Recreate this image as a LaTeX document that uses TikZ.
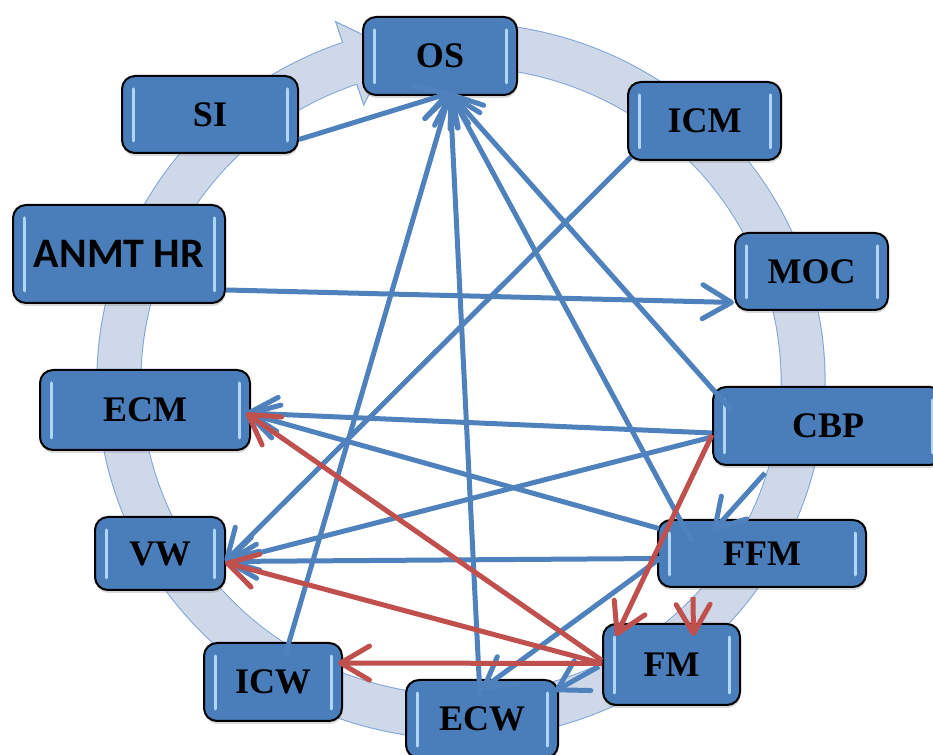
\documentclass[tikz,border=0pt]{standalone}
\usepackage{fontspec}
\setmainfont{Liberation Serif}
\newfontfamily\labelsans{Carlito}
\usepackage{tikz}
\usetikzlibrary{arrows.meta}
\usetikzlibrary{calc}
\usetikzlibrary{math}
\usetikzlibrary{shadows}

\definecolor{boxblue}{RGB}{74,126,187}
\definecolor{lineblue}{RGB}{79,129,189}
\definecolor{linered}{RGB}{192,80,77}
\definecolor{ringfill}{RGB}{207,216,232}
\definecolor{ringedge}{RGB}{128,164,212}
\definecolor{gloss}{RGB}{175,214,246}

\tikzset{
  unitbox/.style={draw=black, line width=2pt, fill=boxblue, rounded corners=13pt,
    inner sep=0pt, text=black, font=\fontsize{36}{40}\selectfont\bfseries,
    drop shadow={shadow xshift=0.5pt, shadow yshift=-3pt, opacity=0.3},
    path picture={
      \draw[gloss, line width=3pt, line cap=round]
        ([shift={(11,-13)}]path picture bounding box.north west) --
        ([shift={(11,12)}]path picture bounding box.south west);
      \draw[gloss, line width=3pt, line cap=round]
        ([shift={(-11,-13)}]path picture bounding box.north east) --
        ([shift={(-11,12)}]path picture bounding box.south east);
    }},
  bluelink/.style={lineblue, line width=5pt,
    -{Straight Barb[length=29pt, width=34pt, round]}},
  redlink/.style={bluelink, linered},
}

\begin{document}
\begin{tikzpicture}[x=1pt, y=1pt]

  \tikzmath{
    \rx      = 342; % horizontal radius of the ring
    \ry      = 336; % vertical radius of the ring
    \headang = 109; % angle where the ring arrow head sits
    \headlen = 45;  % length of the ring arrow head
    \headwid = 44;  % half width of the ring arrow head
    \ta      = atan2(\ry*cos(\headang)*(-1), \rx*sin(\headang)); % heading of the head
  }

  \useasboundingbox (0, 0) rectangle (933, 754);

  % centre of the ring and the head of the ring
  \coordinate (M) at (461, 373);
  \coordinate (hb) at ($ (M) + (\headang:{\rx} and {\ry}) $);
  \coordinate (tip) at ($ (hb) + (\ta:\headlen) $);
  \coordinate (h1) at ($ (hb) + (\ta+90:\headwid) $);
  \coordinate (h2) at ($ (hb) + (\ta-90:\headwid) $);

  % ring made out of one wide arc
  \draw[ringedge, line width=45pt] (hb)
    arc[start angle=\headang, end angle=455, x radius=\rx, y radius=\ry];
  \draw[ringedge, fill=ringfill, line width=1pt] (h1) -- (tip) -- (h2) -- cycle;
  \draw[ringfill, line width=43pt] ($ (M) + (\headang-1.5:{\rx} and {\ry}) $)
    arc[start angle=\headang-1.5, end angle=456, x radius=\rx, y radius=\ry];

  % units placed round the ring
  \node[unitbox, minimum width=154, minimum height=78] (OS)   at (440, 698)   {OS};
  \node[unitbox, minimum width=176, minimum height=77] (SI)   at (210, 639.5) {SI};
  \node[unitbox, minimum width=153, minimum height=78] (ICM)  at (704.5, 633) {ICM};
  \node[unitbox, minimum width=212, minimum height=98,
        font=\labelsans\fontsize{42}{46}\selectfont\bfseries] (ANMT) at (119, 500) {ANMT HR};
  \node[unitbox, minimum width=153, minimum height=77] (MOC)  at (811.5, 482.5) {MOC};
  \node[unitbox, minimum width=210, minimum height=80] (ECM)  at (145, 344)   {ECM};
  \node[unitbox, minimum width=230, minimum height=78] (CBP)  at (828, 328)   {CBP};
  \node[unitbox, minimum width=130, minimum height=73] (VW)   at (160, 200.5) {VW};
  \node[unitbox, minimum width=208, minimum height=67] (FFM)  at (762, 200.5) {FFM};
  \node[unitbox, minimum width=138, minimum height=78] (ICW)  at (273, 72)    {ICW};
  \node[unitbox, minimum width=137, minimum height=81] (FM)   at (671.5, 89.5) {FM};
  \node[unitbox, minimum width=152, minimum height=78] (ECW)  at (482, 35)    {ECW};

  % blue links
  \draw[bluelink] ([yshift=-25]SI.east) -- ([shift={(10,3)}]OS.south);
  \draw[bluelink] ([shift={(-2,-17)}]ECW.north) -- ([shift={(10,3)}]OS.south);
  \draw[bluelink] ([shift={(12,-14)}]ICW.north) -- ([shift={(10,3)}]OS.south);
  \draw[bluelink] ([shift={(35,-23)}]FFM.north west) -- ([shift={(10,3)}]OS.south);
  \draw[bluelink] ([shift={(20,-25)}]CBP.north west) -- ([shift={(10,3)}]OS.south);
  \draw[bluelink] ([yshift=-36]ANMT.east) -- ([yshift=-31]MOC.west);
  \draw[bluelink] ([shift={(4,4)}]ICM.south west) -- ([shift={(-1,-8)}]VW.east);
  \draw[bluelink] ([yshift=-7]CBP.west) -- ([shift={(-5,-3)}]ECM.east);
  \draw[bluelink] ([yshift=-11]CBP.west) -- ([shift={(-1,-8)}]VW.east);
  \draw[bluelink] ([shift={(2,25)}]FFM.west) -- ([shift={(-5,-3)}]ECM.east);
  \draw[bluelink] ([shift={(3,-5)}]FFM.west) -- ([shift={(-1,-8)}]VW.east);
  \draw[bluelink] ([shift={(3,-5)}]FFM.west) -- ([yshift=-10]ECW.north);
  \draw[bluelink] ([shift={(-63,-7)}]CBP.south) -- ([shift={(-49,-12)}]FFM.north);
  \draw[bluelink] ([shift={(-3,-2)}]FM.west) -- ([shift={(-4,-12)}]ECW.north east);

  % red links
  \draw[redlink] ([yshift=-9]CBP.west) -- ([shift={(14,-13)}]FM.north west);
  \draw[redlink] ([shift={(-69,-9)}]FFM.south) -- ([shift={(22,-13)}]FM.north);
  \draw[redlink] ([yshift=4]FM.west) -- ([shift={(-5,-3)}]ECM.east);
  \draw[redlink] ([yshift=1]FM.west) -- ([shift={(-1,-9)}]VW.east);
  \draw[redlink] ([yshift=1]FM.west) -- ([shift={(-5,19)}]ICW.east);

\end{tikzpicture}
\end{document}
